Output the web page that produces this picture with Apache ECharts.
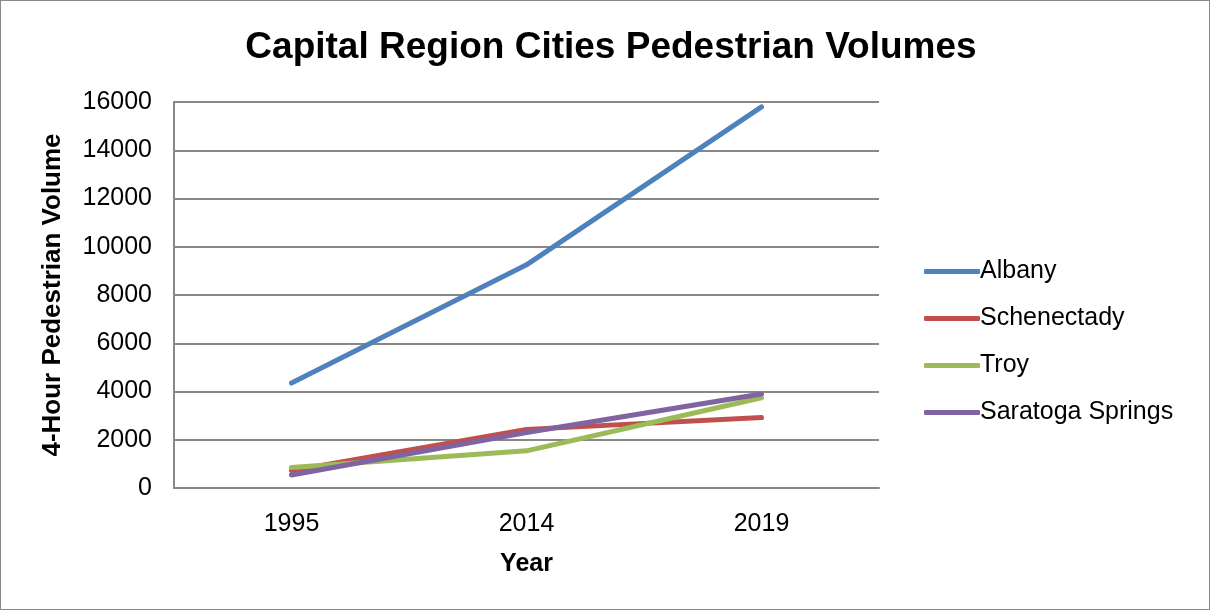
<!DOCTYPE html>
<html><head><meta charset="utf-8">
<script src="https://cdn.jsdelivr.net/npm/echarts@6/dist/echarts.min.js"></script>
<style>html,body{margin:0;padding:0;background:#fff}#c{width:1210px;height:610px;box-sizing:border-box;border:1.5px solid #8a8a8a}</style>
</head><body><div id="c"></div>
<script>
const categories = ['1995', '2014', '2019'];
const albany = [4350, 9250, 15800];
const schenectady = [720, 2430, 2920];
const troy = [850, 1540, 3740];
const saratoga = [540, 2300, 3900];
const seriesNames = ['Albany', 'Schenectady', 'Troy', 'Saratoga Springs'];
const colors = ['#4F81BD', '#C0504D', '#9BBB59', '#8064A2'];
const values = [albany, schenectady, troy, saratoga];

const chart = echarts.init(document.getElementById('c'), null, {renderer: 'canvas'});
const FONT = 'Liberation Sans, Arial, sans-serif';
chart.setOption({
  animation: false,
  color: colors,
  title: {
    text: 'Capital Region Cities Pedestrian Volumes',
    left: 605, top: 23, textAlign: 'center',
    textStyle: {fontFamily: FONT, fontWeight: 'bold', fontSize: 37, color: '#000'}
  },
  legend: {
    orient: 'vertical', left: 918, top: 253, itemGap: 22,
    itemWidth: 56, itemHeight: 5, icon: 'roundRect',
    textStyle: {fontFamily: FONT, fontSize: 25, color: '#000', padding: [0, 0, 0, -5]},
    data: seriesNames
  },
  grid: {left: 173, right: 330, top: 101, bottom: 121},
  xAxis: {
    type: 'category', data: categories, boundaryGap: true,
    name: 'Year', nameLocation: 'middle', nameGap: 64,
    nameTextStyle: {fontFamily: FONT, fontWeight: 'bold', fontSize: 25, color: '#000'},
    axisLine: {lineStyle: {color: '#888', width: 2}},
    axisTick: {show: false},
    axisLabel: {fontFamily: FONT, fontSize: 25, color: '#000', margin: 24}
  },
  yAxis: {
    type: 'value', min: 0, max: 16000, interval: 2000,
    name: '4-Hour Pedestrian Volume', nameLocation: 'middle', nameGap: 108, nameRotate: 90,
    nameTextStyle: {fontFamily: FONT, fontWeight: 'bold', fontSize: 26, color: '#000'},
    axisLine: {show: true, lineStyle: {color: '#888', width: 2}},
    axisTick: {show: true, inside: true, length: 6, lineStyle: {color: '#888', width: 2}},
    splitLine: {lineStyle: {color: '#888', width: 2}},
    axisLabel: {fontFamily: FONT, fontSize: 25, color: '#000', margin: 22,
      formatter: v => String(v)}
  },
  series: seriesNames.map((n, i) => ({
    name: n, type: 'line', data: values[i], symbol: 'none',
    lineStyle: {width: 5, color: colors[i], cap: 'round', join: 'round'},
    itemStyle: {color: colors[i]}
  }))
});
</script></body></html>
